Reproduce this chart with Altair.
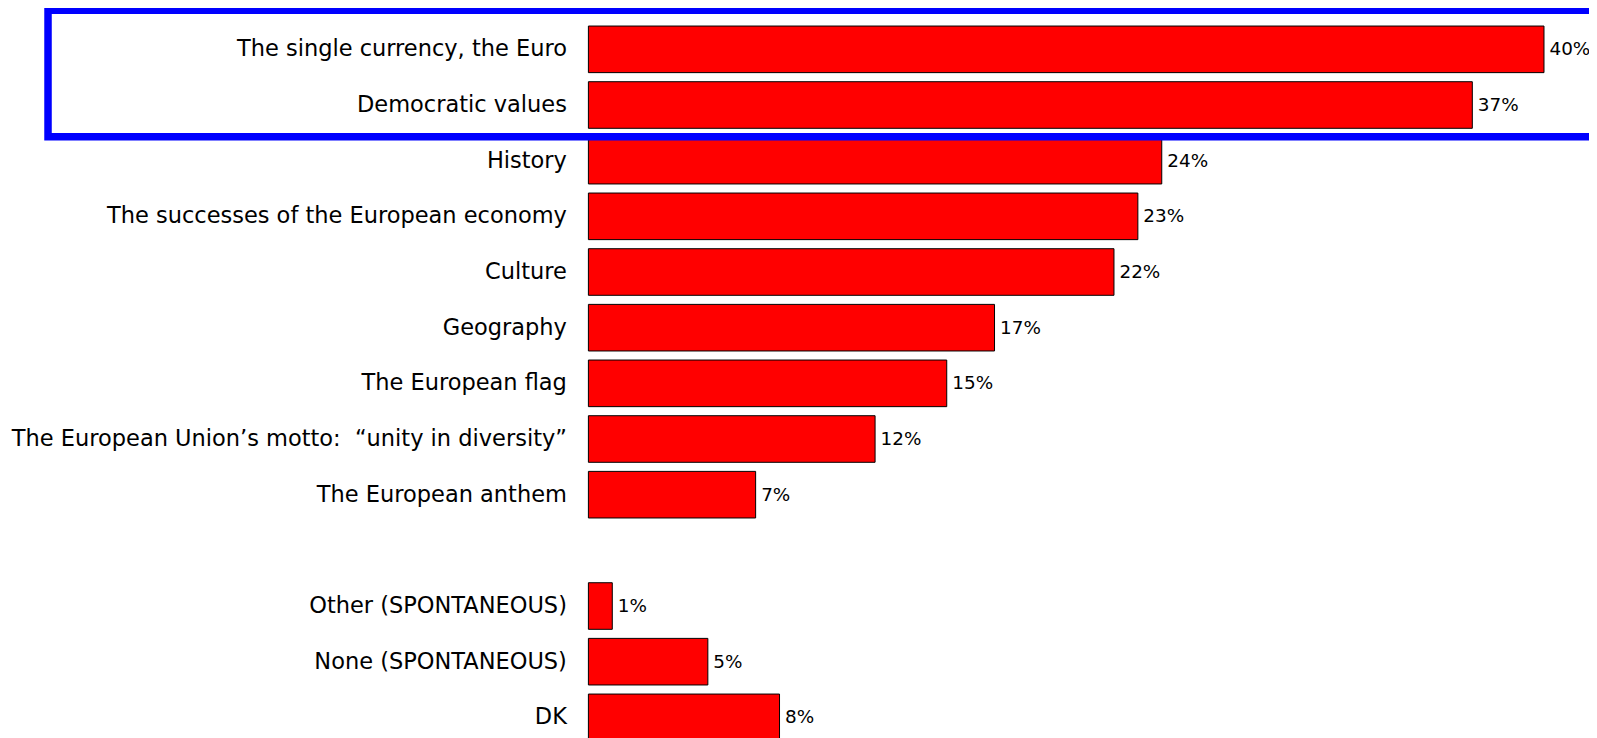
import altair as alt
import pandas as pd

categories = [
    "The single currency, the Euro",
    "Democratic values",
    "History",
    "The successes of the European economy",
    "Culture",
    "Geography",
    "The European flag",
    "The European Union\u2019s motto:\u00a0 \u201cunity in diversity\u201d",
    "The European anthem",
    "Other (SPONTANEOUS)",
    "None (SPONTANEOUS)",
    "DK",
]
values = [40, 37, 24, 23, 22, 17, 15, 12, 7, 1, 5, 8]
labels = [f"{v}%" for v in values]
spacer = " "
domain = categories[:9] + [spacer] + categories[9:]

df = pd.DataFrame({"category": categories, "value": values, "label": labels})

y = alt.Y(
    "category:N",
    scale=alt.Scale(domain=domain, paddingInner=0.163, paddingOuter=0.0815),
    axis=alt.Axis(
        title=None,
        domain=False,
        ticks=False,
        tickSize=0,
        grid=False,
        labelPadding=22,
        labelFont="DejaVu Sans",
        labelFontSize=22.5,
        labelColor="#000000",
        labelLimit=0,
    ),
)
x = alt.X("value:Q", scale=alt.Scale(domain=[0, 40], nice=False, zero=True), axis=None)

bars = alt.Chart(df).mark_bar(color="#FF0000", stroke="#000000", strokeWidth=1).encode(x=x, y=y)

text = alt.Chart(df).mark_text(
    align="left", baseline="middle", dx=5.5, font="DejaVu Sans", fontSize=18.4, color="#000000"
).encode(x=x, y=y, text="label:N")

frame = alt.Chart(pd.DataFrame({"a": [0]})).mark_rect(
    fillOpacity=0, stroke="#0000FF", strokeWidth=7.5
).encode(
    x=alt.value(-540.4), x2=alt.value(1040), y=alt.value(-11.2), y2=alt.value(115.3)
)

chart = alt.layer(bars, text, frame).properties(
    width=955.6,
    height=723.7,
    autosize=alt.AutoSizeParams(type="none"),
    padding={"left": 580.4, "top": 13.5, "right": 45, "bottom": 0},
).configure_view(strokeWidth=0)

chart.save("out.html", embed_options={"renderer": "svg", "actions": False})
